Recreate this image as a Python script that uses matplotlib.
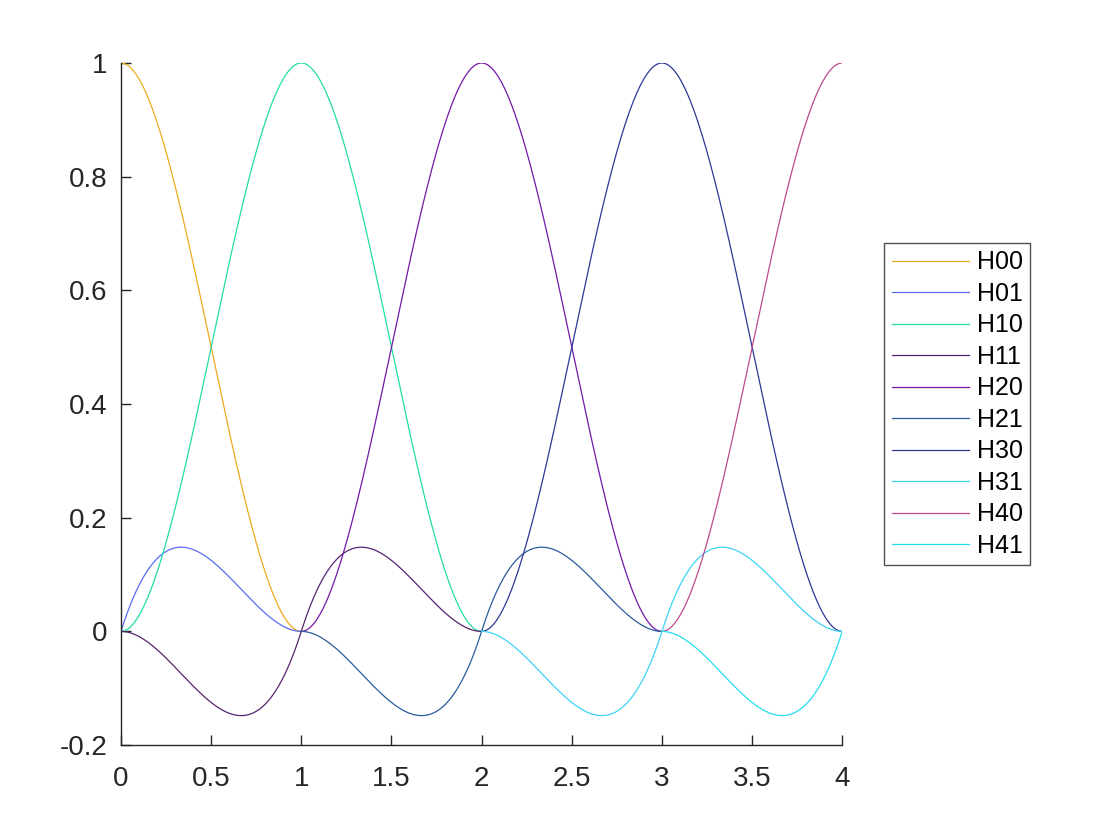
import numpy as np
import matplotlib
matplotlib.use("Agg")
import matplotlib.pyplot as plt

plt.rcParams['font.family'] = ['Liberation Sans', 'DejaVu Sans']

# knots of the piecewise cubic Hermite basis
knots = [0, 1, 2, 3, 4]
names = ['H00', 'H01', 'H10', 'H11', 'H20', 'H21', 'H30', 'H31', 'H40', 'H41']
# value basis (Hi0) -> value 1 at knot i; slope basis (Hi1) -> slope 1 at knot i
node_index = [0, 0, 1, 1, 2, 2, 3, 3, 4, 4]
kind = ['value', 'slope'] * 5
colors = ['#EDAA1E', '#5A6CF5', '#22DDA6', '#562470', '#7418A6',
          '#2A5C9C', '#2C3896', '#3CD4F6', '#BC4A8E', '#24DEF0']


def hermite_curve(i, k, x):
    # only the support of each basis function is drawn
    y = np.full_like(x, np.nan)
    for a, b in zip(knots[:-1], knots[1:]):
        m = (x >= a) & (x <= b)
        t = (x[m] - a) / (b - a)
        h = b - a
        if k == 'value':
            if i == a:
                y[m] = 2 * t**3 - 3 * t**2 + 1
            elif i == b:
                y[m] = -2 * t**3 + 3 * t**2
        else:
            if i == a:
                y[m] = h * (t**3 - 2 * t**2 + t)
            elif i == b:
                y[m] = h * (t**3 - t**2)
    return y


x = np.linspace(0, 4, 801)

fig = plt.figure(figsize=(11.2, 8.4), dpi=100)
ax = fig.add_axes([0.108, 0.113, 0.644, 0.812])
for name, i, k, c in zip(names, node_index, kind, colors):
    ax.plot(x, hermite_curve(i, k, x), color=c, lw=0.9, label=name)

ax.set_xlim(0, 4)
ax.set_ylim(-0.2, 1)
ax.set_xticks(np.arange(0, 4.01, 0.5))
ax.set_xticklabels(['0', '0.5', '1', '1.5', '2', '2.5', '3', '3.5', '4'])
ax.set_yticks(np.arange(-0.2, 1.01, 0.2))
ax.set_yticklabels(['-0.2', '0', '0.2', '0.4', '0.6', '0.8', '1'])
ax.spines['top'].set_visible(False)
ax.spines['right'].set_visible(False)
for s in ['left', 'bottom']:
    ax.spines[s].set_color('#262626')
    ax.spines[s].set_linewidth(1.0)
ax.tick_params(direction='in', length=7, width=1.0, colors='#262626',
               labelsize=20, labelcolor='#262626')
ax.tick_params(axis='x', pad=15)
ax.tick_params(axis='y', pad=10)

leg = ax.legend(loc='center left', bbox_to_anchor=(1.058, 0.5), fontsize=18,
                borderaxespad=0, frameon=True, fancybox=False,
                edgecolor='#262626', handlelength=3.1, labelspacing=0.3,
                borderpad=0.3, handletextpad=0.3)
leg.get_frame().set_linewidth(1.0)

fig.savefig('out.png', dpi=100)
